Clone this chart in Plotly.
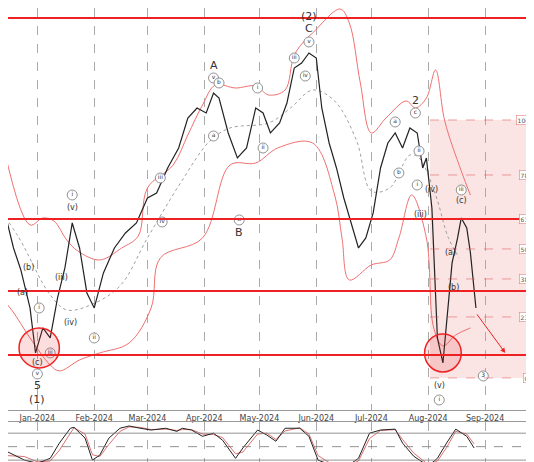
import plotly.graph_objects as go
from plotly.subplots import make_subplots

# ── price path (approximate closes) ───────────────────────────
price_dates = ["2023-12-11", "2023-12-15", "2023-12-19", "2023-12-23", "2023-12-28", "2023-12-31",
               "2024-01-04", "2024-01-08", "2024-01-12", "2024-01-16", "2024-01-20", "2024-01-24",
               "2024-01-28", "2024-02-01", "2024-02-06", "2024-02-12", "2024-02-18", "2024-02-24",
               "2024-03-01", "2024-03-06", "2024-03-12", "2024-03-18", "2024-03-23", "2024-03-28",
               "2024-04-02", "2024-04-06", "2024-04-09", "2024-04-14", "2024-04-19", "2024-04-24",
               "2024-04-29", "2024-05-03", "2024-05-07", "2024-05-12", "2024-05-16", "2024-05-20",
               "2024-05-24", "2024-05-28", "2024-06-01", "2024-06-04", "2024-06-08", "2024-06-12",
               "2024-06-16", "2024-06-20", "2024-06-24", "2024-06-28", "2024-07-02", "2024-07-06",
               "2024-07-10", "2024-07-14", "2024-07-18", "2024-07-22", "2024-07-26", "2024-07-29",
               "2024-07-31", "2024-08-03", "2024-08-04", "2024-08-06", "2024-08-09", "2024-08-12",
               "2024-08-14", "2024-08-17", "2024-08-19", "2024-08-22", "2024-08-24", "2024-08-27"]
price_close = [185, 190, 160, 138, 100, 55,
               80, 70, 110, 140, 185, 160,
               115, 100, 135, 160, 175, 185,
               210, 215, 240, 260, 290, 300,
               295, 315, 310, 275, 250, 260,
               300, 295, 275, 285, 305, 340,
               345, 355, 350, 300, 265, 240,
               210, 185, 160, 170, 195, 240,
               265, 275, 260, 280, 275, 240,
               250, 200, 150, 70, 45, 110,
               145, 170, 190, 180, 155, 100]

upper_dates = ["2023-12-11", "2023-12-28", "2024-01-04", "2024-01-10", "2024-01-17", "2024-01-23",
               "2024-02-04", "2024-02-16", "2024-02-25", "2024-03-01", "2024-03-15", "2024-03-23",
               "2024-03-31", "2024-04-07", "2024-04-18", "2024-04-29", "2024-05-06", "2024-05-15",
               "2024-05-20", "2024-05-27", "2024-05-30", "2024-06-14", "2024-06-19", "2024-06-25",
               "2024-07-01", "2024-07-09", "2024-07-20", "2024-07-25", "2024-07-31", "2024-08-05",
               "2024-08-10", "2024-08-19", "2024-08-24"]
upper_band = [283, 183, 190, 187, 168, 157, 148, 160, 172, 220, 243, 273, 303, 323, 320, 322, 313,
              318, 353, 370, 375, 399, 385, 325, 275, 290, 307, 300, 310, 338, 287, 237, 213]

lower_dates = ["2023-12-11", "2023-12-18", "2023-12-28", "2024-01-08", "2024-01-13", "2024-01-24",
               "2024-02-04", "2024-02-20", "2024-03-03", "2024-03-08", "2024-03-31", "2024-04-15",
               "2024-04-29", "2024-05-11", "2024-05-30", "2024-06-11", "2024-06-15", "2024-06-19",
               "2024-07-01", "2024-07-11", "2024-07-16", "2024-07-23", "2024-07-31", "2024-08-04",
               "2024-08-09", "2024-08-16", "2024-08-24"]
lower_band = [113, 98, 70, 43, 37, 48, 55, 65, 100, 150, 170, 243, 245, 260, 265, 213, 170, 128,
              143, 148, 170, 213, 170, 80, 62, 73, 80]

mid_dates = ["2023-12-11", "2023-12-22", "2024-01-08", "2024-01-17", "2024-01-30", "2024-02-15",
             "2024-03-01", "2024-03-19", "2024-04-04", "2024-04-15", "2024-05-06", "2024-05-18",
             "2024-05-30", "2024-06-11", "2024-06-23", "2024-07-01", "2024-07-11", "2024-07-22",
             "2024-07-27", "2024-08-05", "2024-08-12", "2024-08-18"]
mid_band = [200, 170, 113, 98, 103, 122, 170, 225, 267, 280, 285, 300, 318, 307, 267, 217, 220,
            253, 250, 213, 170, 150]

# ── stochastic oscillator ─────────────────────────────────────
stoch_dates = ["2023-12-11", "2023-12-16", "2023-12-25", "2024-01-01", "2024-01-08", "2024-01-13",
               "2024-01-19", "2024-01-21", "2024-01-27", "2024-01-31", "2024-02-04", "2024-02-09",
               "2024-02-15", "2024-02-20", "2024-02-26", "2024-03-03", "2024-03-11", "2024-03-17",
               "2024-03-20", "2024-03-25", "2024-03-31", "2024-04-06", "2024-04-11", "2024-04-18",
               "2024-04-22", "2024-04-30", "2024-05-05", "2024-05-10", "2024-05-15", "2024-05-23",
               "2024-05-28", "2024-06-02", "2024-06-09", "2024-06-18", "2024-06-24", "2024-06-30",
               "2024-07-06", "2024-07-14", "2024-07-18", "2024-07-24", "2024-08-01", "2024-08-06",
               "2024-08-11", "2024-08-16", "2024-08-22", "2024-08-26"]
stoch_k = [20, 38, 20, 13, 24, 58, 91, 93, 69, 20, 31, 69, 91, 96, 91, 87, 91, 84, 91, 87, 73, 80,
           64, 24, 47, 87, 76, 62, 91, 91, 73, 20, 9, 7, 24, 80, 87, 89, 58, 29, 7, 24, 58, 89, 73, 47]
stoch_d = [18, 30, 28, 16, 18, 42, 80, 92, 78, 32, 28, 55, 84, 94, 93, 88, 89, 86, 88, 88, 78, 77,
           70, 34, 38, 78, 80, 66, 85, 92, 78, 30, 12, 8, 18, 68, 86, 88, 66, 36, 10, 18, 48, 84, 78, 56]

# ── horizontal levels, fibonacci box ──────────────────────────
red_levels = [390, 189, 117, 53]
fib_labels = ["100.0%", "78.6%", "61.8%", "50.0%", "38.2%", "23.6%", "0.0%"]
fib_values = [288, 233, 189, 159, 129, 91, 30]

# circled wave labels: date, price, text
circ_dates = ["2024-05-28", "2024-05-20", "2024-05-26", "2024-04-06", "2024-04-09", "2024-04-06",
              "2024-04-30", "2024-05-03", "2024-04-20", "2024-07-25", "2024-07-14", "2024-07-16",
              "2024-07-27", "2024-07-26", "2024-08-19", "2024-08-07", "2024-01-20", "2024-01-02",
              "2024-02-01", "2024-01-01", "2024-03-08", "2024-03-09", "2023-12-15", "2024-08-31",
              "2024-01-08"]
circ_vals = [366, 350, 332, 330, 325, 272, 320, 260, 188, 295, 286, 235, 257, 223, 218, 8, 213, 100,
             70, 34, 230, 186, 190, 32, 55]
circ_text = ["v", "iii", "iv", "v", "b", "a", "i", "ii", "x", "c", "a", "b", "ii", "i", "iii", "i",
             "i", "i", "ii", "v", "iii", "iv", "v", "3", "iii"]

# plain wave labels
plain_dates = ["2024-05-28", "2024-05-28", "2024-04-06", "2024-04-20", "2024-07-25", "2024-08-03",
               "2024-07-28", "2024-08-19", "2024-08-13", "2024-08-15", "2024-08-07", "2024-01-20",
               "2023-12-27", "2023-12-24", "2024-01-14", "2024-01-19", "2024-01-01", "2024-01-01",
               "2024-01-01"]
plain_vals = [392, 380, 342, 175, 307, 218, 193, 207, 155, 120, 22, 200, 140, 115, 130, 85, 45, 22, 8]
plain_text = ["(2)", "C", "A", "B", "2", "(iv)", "(iii)", "(c)", "(a)", "(b)", "(v)", "(v)", "(b)",
              "(a)", "(iii)", "(iv)", "(c)", "5", "(1)"]

x_start, x_end = "2023-12-16", "2024-10-02"

fig = make_subplots(rows=2, cols=1, shared_xaxes=True)

# fibonacci shaded area
fig.add_shape(type="rect", x0="2024-08-02", x1=x_end, y0=fib_values[-1], y1=fib_values[0],
              fillcolor="rgba(230,120,120,0.2)", line_width=0, layer="below", row=1, col=1)
for lab, val in zip(fib_labels, fib_values):
    fig.add_shape(type="line", x0="2024-08-02", x1="2024-09-18", y0=val, y1=val,
                  line=dict(color="rgba(220,90,90,0.7)", width=0.8, dash="dash"), row=1, col=1)
    fig.add_annotation(x=x_end, y=val, text=lab, showarrow=False, xanchor="right",
                       font=dict(size=6, color="#555"), bgcolor="white",
                       bordercolor="#e08080", borderwidth=0.6, borderpad=1, row=1, col=1)

for lvl in red_levels:
    fig.add_shape(type="line", x0=x_start, x1=x_end, y0=lvl, y1=lvl,
                  line=dict(color="#ee2222", width=2), row=1, col=1)

# red circles
fig.add_shape(type="circle", x0="2023-12-22", x1="2024-01-13", y0=40, y1=80,
              line=dict(color="#ee2222", width=1.5), fillcolor="rgba(238,34,34,0.15)", row=1, col=1)
fig.add_shape(type="circle", x0="2024-07-30", x1="2024-08-19", y0=36, y1=74,
              line=dict(color="#ee2222", width=1.5), fillcolor="rgba(238,34,34,0.15)", row=1, col=1)

# bands
fig.add_trace(go.Scatter(x=upper_dates, y=upper_band, mode="lines", line=dict(color="#f07070", width=1),
                         line_shape="spline", showlegend=False), row=1, col=1)
fig.add_trace(go.Scatter(x=lower_dates, y=lower_band, mode="lines", line=dict(color="#f07070", width=1),
                         line_shape="spline", showlegend=False), row=1, col=1)
fig.add_trace(go.Scatter(x=mid_dates, y=mid_band, mode="lines",
                         line=dict(color="#888", width=0.8, dash="dot"),
                         line_shape="spline", showlegend=False), row=1, col=1)

# price
fig.add_trace(go.Scatter(x=price_dates, y=price_close, mode="lines",
                         line=dict(color="#222", width=1.2), showlegend=False), row=1, col=1)

# wave labels
fig.add_trace(go.Scatter(x=circ_dates, y=circ_vals, mode="markers+text", text=circ_text,
                         textfont=dict(size=6, color="#333"),
                         marker=dict(size=10, color="white", line=dict(color="#777", width=0.8)),
                         showlegend=False, cliponaxis=False), row=1, col=1)
for d, v, t in zip(plain_dates, plain_vals, plain_text):
    big = t in ("5", "(1)", "(2)", "A", "B", "C", "2")
    fig.add_annotation(x=d, y=v, text=t, showarrow=False,
                       font=dict(size=11 if big else 8, color="#333"), row=1, col=1)

# projection arrow
fig.add_annotation(x="2024-09-12", y=55, ax="2024-08-27", ay=95, axref="x", ayref="y",
                   showarrow=True, arrowhead=2, arrowsize=1, arrowwidth=1, arrowcolor="#ee2222",
                   text="", row=1, col=1)

# stochastic
for lvl, dash in [(80, "solid"), (50, "dash"), (20, "solid")]:
    fig.add_shape(type="line", x0=x_start, x1=x_end, y0=lvl, y1=lvl,
                  line=dict(color="#777", width=0.8, dash=dash), row=2, col=1)
fig.add_trace(go.Scatter(x=stoch_dates, y=stoch_d, mode="lines", line=dict(color="#e07070", width=1),
                         showlegend=False), row=2, col=1)
fig.add_trace(go.Scatter(x=stoch_dates, y=stoch_k, mode="lines", line=dict(color="#222", width=1),
                         showlegend=False), row=2, col=1)

fig.update_xaxes(range=[x_start, x_end], dtick="M1", tick0="2024-01-01", tickformat="%b-%Y",
                 showgrid=True, gridcolor="#aaa", griddash="dash", gridwidth=0.8,
                 showline=True, linecolor="#999", mirror=True, zeroline=False,
                 tickfont=dict(size=8, color="#444"))
fig.update_xaxes(showticklabels=True, ticklen=0, row=1, col=1)
fig.update_xaxes(showticklabels=False, row=2, col=1)
fig.update_yaxes(showticklabels=False, showgrid=False, zeroline=False,
                 showline=True, linecolor="#999", mirror=True)
fig.update_yaxes(range=[-2, 400], domain=[0.13, 1], row=1, col=1)
fig.update_yaxes(range=[-2, 105], domain=[0, 0.104], row=2, col=1)

fig.update_layout(width=534, height=462, margin=dict(l=0, r=0, t=0, b=0),
                  paper_bgcolor="white", plot_bgcolor="white",
                  font=dict(family="DejaVu Sans"))

fig.write_html("out.html")
